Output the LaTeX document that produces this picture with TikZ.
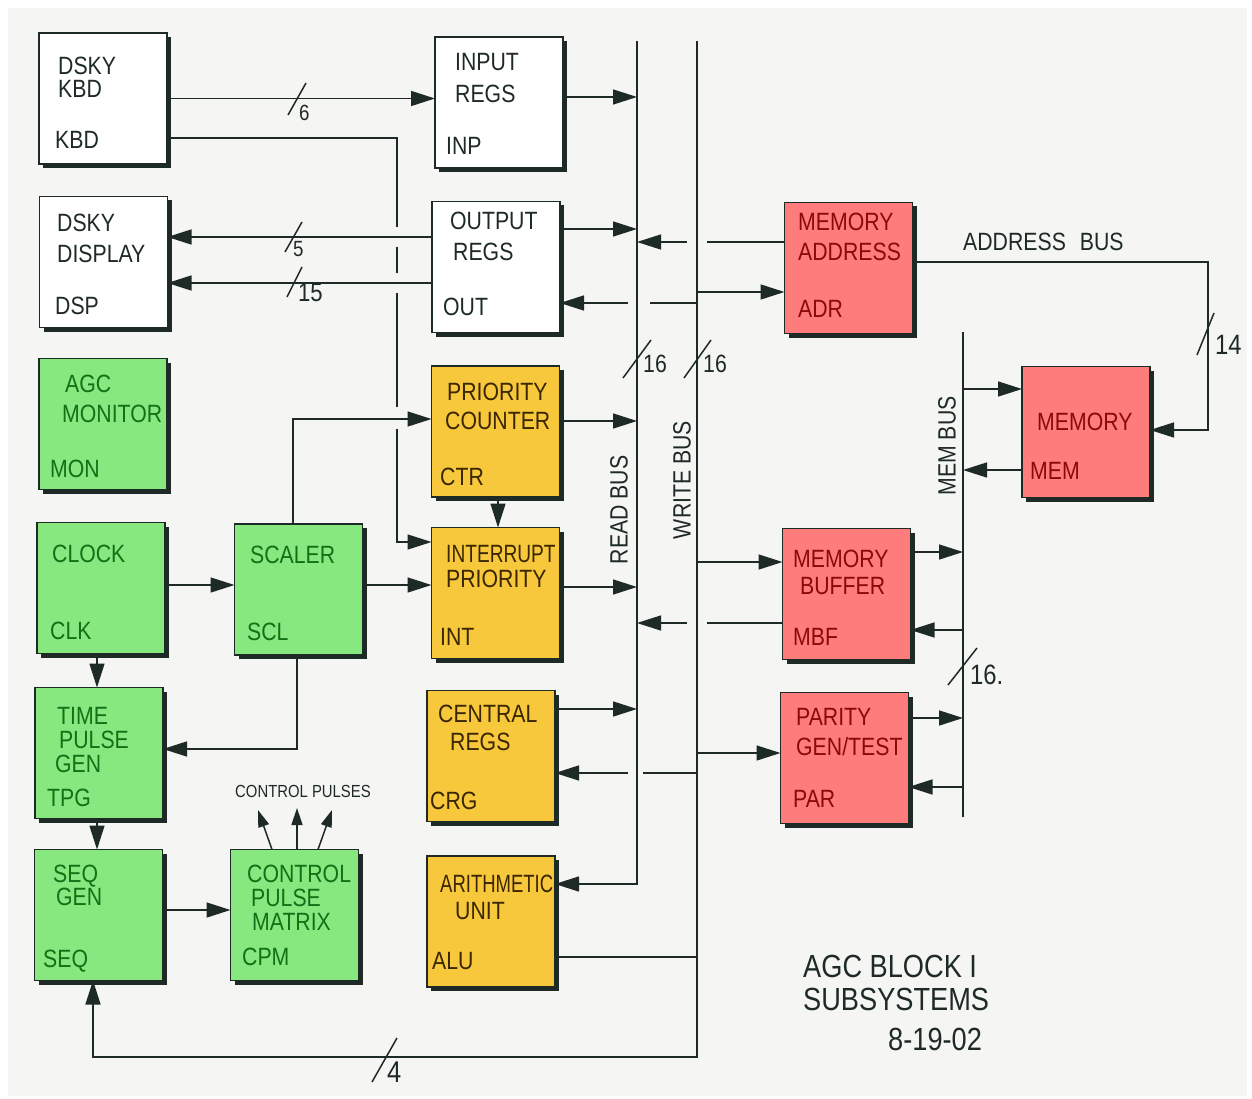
\documentclass[tikz,border=0pt]{standalone}
\usepackage{fontspec}
\usepackage{graphicx}
\setmainfont{Liberation Sans}[FakeStretch=0.85]
\usetikzlibrary{arrows.meta,calc,shadows}
\definecolor{paper}{HTML}{F5F5F3}
\definecolor{gfill}{HTML}{86E87E}
\definecolor{gtext}{HTML}{137016}
\definecolor{yfill}{HTML}{F7C83C}
\definecolor{ytext}{HTML}{3A2600}
\definecolor{rfill}{HTML}{FF7C7C}
\definecolor{rtext}{HTML}{8A0A0A}
\definecolor{ink}{HTML}{1E2A26}
\tikzset{
  box/.style={draw=ink, line width=1.6pt, minimum width=128pt, minimum height=131pt,
    inner sep=0pt, outer sep=0pt,
    general shadow={fill=ink, shadow xshift=4pt, shadow yshift=-4pt}},
  wbox/.style={box, fill=white},
  gbox/.style={box, fill=gfill},
  ybox/.style={box, fill=yfill},
  rbox/.style={box, fill=rfill},
  ln/.style={draw=ink, line width=1.5pt},
  arr/.style={ln, -{Triangle[length=24pt,width=15pt]}},
  sarr/.style={ln, -{Triangle[length=17pt,width=11pt]}},
  tick/.style={draw=ink, line width=1.5pt},
  txt/.style={anchor=north west, inner sep=0pt, align=left, font=\fontsize{25}{30}\selectfont},
  kt/.style={txt, text=ink},
  gt/.style={txt, text=gtext},
  yt/.style={txt, text=ytext},
  rt/.style={txt, text=rtext},
  numt/.style={anchor=north west, inner sep=0pt, text=ink, font=\fontsize{22}{24}\selectfont},
  bust/.style={inner sep=0pt, text=ink, rotate=90, font=\fontsize{25}{30}\selectfont},
}
\begin{document}
\begin{tikzpicture}[x=1pt,y=-1pt]
\useasboundingbox (0,0) rectangle (1252,1099);
\fill[white] (0,0) rectangle (1252,1099);
\fill[paper] (8,8) rectangle (1247,1096);

% ---------- boxes ----------
\node[wbox] (kbd) at (103,98.5) {};
\node[wbox] (dsp) at (103.5,262) {};
\node[wbox] (inp) at (499,102.5) {};
\node[wbox] (out) at (496,267) {};
\node[gbox] (mon) at (103,424) {};
\node[gbox] (clk) at (101,588) {};
\node[gbox] (scl) at (298.5,589.5) {};
\node[gbox] (tpg) at (99,753) {};
\node[gbox] (seq) at (98.5,915) {};
\node[gbox] (cpm) at (294.5,915) {};
\node[ybox] (ctr) at (495.5,431.5) {};
\node[ybox] (int) at (495.5,593) {};
\node[ybox] (crg) at (491,756) {};
\node[ybox] (alu) at (491,921.5) {};
\node[rbox] (adr) at (848.5,268) {};
\node[rbox] (mem) at (1086,432) {};
\node[rbox] (mbf) at (846.5,594) {};
\node[rbox] (par) at (844.5,758) {};

% ---------- box texts ----------
\node[kt, font=\fontsize{25}{23}\selectfont] (kbd-t) at (58,57) {DSKY\\KBD};
\node[kt] (kbd-a) at (55,131) {KBD};
\node[kt, font=\fontsize{25}{31}\selectfont] (dsp-t) at (57,214) {DSKY\\DISPLAY};
\node[kt] (dsp-a) at (55,297) {DSP};
\node[kt, font=\fontsize{25}{32}\selectfont] (inp-t) at (455,53) {INPUT\\REGS};
\node[kt] (inp-a) at (446,137) {INP};
\node[kt, font=\fontsize{25}{31}\selectfont] (out-t) at (450,212) {OUTPUT\\\hspace*{3pt}REGS};
\node[kt] (out-a) at (443,298) {OUT};

\node[gt, font=\fontsize{25}{30}\selectfont] (mon-t) at (62,375) {\hspace*{3pt}AGC\\MONITOR};
\node[gt] (mon-a) at (50,460) {MON};
\node[gt] (clk-t) at (52,545) {CLOCK};
\node[gt] (clk-a) at (50,622) {CLK};
\node[gt] (scl-t) at (250,546) {SCALER};
\node[gt] (scl-a) at (247,623) {SCL};
\node[gt, font=\fontsize{25}{24}\selectfont] (tpg-t) at (55,707) {\hspace*{2pt}TIME\\\hspace*{4pt}PULSE\\GEN};
\node[gt] (tpg-a) at (47,789) {TPG};
\node[gt, font=\fontsize{25}{23}\selectfont] (seq-t) at (53,865) {SEQ\\\hspace*{3pt}GEN};
\node[gt] (seq-a) at (43,950) {SEQ};
\node[gt, font=\fontsize{25}{24}\selectfont] (cpm-t) at (247,865) {CONTROL\\\hspace*{4pt}PULSE\\\hspace*{5pt}MATRIX};
\node[gt] (cpm-a) at (242,948) {CPM};

\node[yt, font=\fontsize{25}{29}\selectfont] (ctr-t) at (445,383) {\hspace*{2pt}PRIORITY\\COUNTER};
\node[yt] (ctr-a) at (440,468) {CTR};
\node[yt, font=\fontsize{25}{25}\selectfont] (int-t) at (446,545) {\scalebox{0.9}[1]{INTERRUPT}\\PRIORITY};
\node[yt] (int-a) at (440,628) {INT};
\node[yt, font=\fontsize{25}{28}\selectfont] (crg-t) at (438,705) {CENTRAL\\\hspace*{12pt}REGS};
\node[yt] (crg-a) at (430,792) {CRG};
\node[yt, font=\fontsize{25}{27}\selectfont] (alu-t) at (440,875) {\scalebox{0.87}[1]{ARITHMETIC}\\\hspace*{15pt}UNIT};
\node[yt] (alu-a) at (432,952) {ALU};

\node[rt, font=\fontsize{25}{30}\selectfont] (adr-t) at (798,213) {MEMORY\\ADDRESS};
\node[rt] (adr-a) at (798,300) {ADR};
\node[rt] (mem-t) at (1037,413) {MEMORY};
\node[rt] (mem-a) at (1030,462) {MEM};
\node[rt, font=\fontsize{25}{27}\selectfont] (mbf-t) at (793,550) {MEMORY\\\hspace*{7pt}BUFFER};
\node[rt] (mbf-a) at (793,628) {MBF};
\node[rt, font=\fontsize{25}{30}\selectfont] (par-t) at (796,708) {PARITY\\GEN/TEST};
\node[rt] (par-a) at (793,790) {PAR};

% ---------- bus coordinates ----------
\coordinate (rbtop) at (637,41);
\coordinate (rbbot) at (637,884);
\coordinate (wbtop) at (697,41);
\coordinate (wbbot) at (697,1057);
\coordinate (mbtop) at (963,332);
\coordinate (mbbot) at (963,817);
\coordinate (kv) at (397,138);
\coordinate (abx) at (1208,262);
\coordinate (lpx) at (93,1057);
\coordinate (c97) at (97,0);

% ---------- buses ----------
\draw[arr] (rbtop) -- (rbbot) -- ($(alu.east)+(0,-37.5)$);
\draw[arr] (wbtop) -- (wbbot) -- (lpx) -- (lpx |- seq.south);
\draw[ln] (mbtop) -- (mbbot);

\node[bust] (rbl) at (619,510) {READ BUS};
\node[bust] (wbl) at (682,480) {WRITE BUS};
\node[bust] (mbl) at (947,446) {MEM BUS};

% ---------- keyboard / display ----------
\draw[arr] (kbd.east) -- (kbd.east -| inp.west);
\coordinate (kbdout) at ($(kbd.east)+(0,39.5)$);
\coordinate (dspa) at ($(dsp.east)+(0,-25)$);
\coordinate (dspb) at ($(dsp.east)+(0,21)$);
\coordinate (ctrin) at ($(ctr.west)+(0,-12.5)$);
\coordinate (intin) at ($(int.west)+(0,-51)$);
\draw[arr] (dspa -| out.west) -- (dspa);
\draw[arr] (dspb -| out.west) -- (dspb);
\draw[ln] (kbdout) -| ($(kv |- dspa)+(0,-10)$);
\draw[ln] ($(kv |- dspa)+(0,10)$) -- ($(kv |- dspb)+(0,-10)$);
\draw[ln] ($(kv |- dspb)+(0,10)$) -- ($(kv |- ctrin)+(0,-12)$);
\draw[arr] ($(kv |- ctrin)+(0,10)$) |- (intin);

% ---------- I/O regs to buses ----------
\coordinate (inpa) at ($(inp.east)+(0,-5.5)$);
\draw[arr] (inpa) -- (inpa -| rbtop);
\coordinate (outa) at ($(out.east)+(0,-38)$);
\draw[arr] (outa) -- (outa -| rbtop);
\coordinate (owb) at ($(out.east)+(0,36)$);
\draw[ln] (owb -| wbtop) -- ($(owb -| rbtop)+(13,0)$);
\draw[arr] ($(owb -| rbtop)+(-9,0)$) -- (owb);

% ---------- memory address ----------
\coordinate (adra) at ($(adr.west)+(0,-26)$);
\draw[ln] (adra) -- ($(adra -| wbtop)+(10,0)$);
\draw[arr] ($(adra -| wbtop)+(-10,0)$) -- (adra -| rbtop);
\coordinate (adrb) at ($(adr.west)+(0,24)$);
\draw[arr] (adrb -| wbtop) -- (adrb);
\coordinate (adrc) at ($(adr.east)+(0,-6)$);
\coordinate (memc) at ($(mem.east)+(0,-2)$);
\draw[arr] (adrc) -| (abx |- memc) -- (memc);
\node[kt, font=\fontsize{25}{30}\selectfont] (abl) at (963,233) {ADDRESS\hspace{14pt}BUS};

% ---------- memory ----------
\coordinate (mema) at ($(mem.west)+(0,-43)$);
\draw[arr] (mema -| mbtop) -- (mema);
\coordinate (memb) at ($(mem.west)+(0,38)$);
\draw[arr] (memb) -- (memb -| mbtop);

% ---------- memory buffer ----------
\coordinate (mbfa) at ($(mbf.west)+(0,-32)$);
\draw[arr] (mbfa -| wbtop) -- (mbfa);
\coordinate (mbfb) at ($(mbf.west)+(0,29)$);
\draw[ln] (mbfb) -- ($(mbfb -| wbtop)+(10,0)$);
\draw[arr] ($(mbfb -| wbtop)+(-10,0)$) -- (mbfb -| rbtop);
\coordinate (mbfc) at ($(mbf.east)+(0,-42)$);
\draw[arr] (mbfc) -- (mbfc -| mbtop);
\coordinate (mbfd) at ($(mbf.east)+(0,36)$);
\draw[arr] (mbfd -| mbtop) -- (mbfd);

% ---------- parity ----------
\coordinate (para) at ($(par.west)+(0,-5)$);
\draw[arr] (para -| wbtop) -- (para);
\coordinate (parb) at ($(par.east)+(0,-40)$);
\draw[arr] (parb) -- (parb -| mbtop);
\coordinate (parc) at ($(par.east)+(0,29)$);
\draw[arr] (parc -| mbtop) -- (parc);

% ---------- central regs / alu ----------
\coordinate (crga) at ($(crg.east)+(0,-47)$);
\draw[arr] (crga) -- (crga -| rbtop);
\coordinate (crgb) at ($(crg.east)+(0,17)$);
\draw[ln] (crgb -| wbtop) -- ($(crgb -| rbtop)+(6,0)$);
\draw[arr] ($(crgb -| rbtop)+(-9,0)$) -- (crgb);
\coordinate (alua) at ($(alu.east)+(0,35.5)$);
\draw[ln] (alua) -- (alua -| wbtop);

% ---------- counters / interrupts ----------
\coordinate (ctra) at ($(ctr.east)+(0,-10.5)$);
\draw[arr] (ctra) -- (ctra -| rbtop);
\coordinate (inta) at ($(int.east)+(0,-6)$);
\draw[arr] (inta) -- (inta -| rbtop);
\draw[arr] ($(ctr.south)+(2.5,0)$) -- ($(int.north)+(2.5,0)$);

% ---------- timing ----------
\draw[arr] ($(scl.north)+(-5.5,0)$) |- (ctrin);
\coordinate (scla) at ($(scl.east)+(0,-4.5)$);
\draw[arr] (scla) -- (scla -| int.west);
\coordinate (clka) at ($(clk.east)+(0,-3)$);
\draw[arr] (clka) -- (clka -| scl.west);
\draw[arr] ($(scl.south)+(-1.5,0)$) |- ($(tpg.east)+(0,-4)$);
\draw[arr] (c97 |- clk.south) -- (c97 |- tpg.north);
\draw[arr] (c97 |- tpg.south) -- (c97 |- seq.north);
\coordinate (seqa) at ($(seq.east)+(0,-5)$);
\draw[arr] (seqa) -- (seqa -| cpm.west);

% ---------- control pulses ----------
\coordinate (cp1) at (258,810);
\coordinate (cp2) at (297,808);
\coordinate (cp3) at (332,810);
\draw[sarr] ($(cpm.north)+(-22.5,0)$) -- (cp1);
\draw[sarr] ($(cpm.north)+(2.5,0)$) -- (cp2);
\draw[sarr] ($(cpm.north)+(23.5,0)$) -- (cp3);
\node[anchor=north west, inner sep=0pt, text=ink, font=\fontsize{17.5}{18}\selectfont] (cpl) at (235,785) {CONTROL PULSES};

% ---------- bit-width marks ----------
\draw[tick] (288,115) -- (306,83);
\node[numt] (n6) at (299,105) {6};
\draw[tick] (285,252) -- (302,222);
\node[numt] (n5) at (293,241) {5};
\draw[tick] (287,297) -- (302,267);
\node[numt, font=\fontsize{26}{28}\selectfont] (n15) at (298,283) {15};
\draw[tick] (623,378) -- (651,340);
\node[numt, font=\fontsize{25}{28}\selectfont] (n16a) at (643,355) {16};
\draw[tick] (684,378) -- (711,340);
\node[numt, font=\fontsize{25}{28}\selectfont] (n16b) at (703,355) {16};
\draw[tick] (1197,355) -- (1214,313);
\node[numt, font=\fontsize{28}{30}\selectfont] (n14) at (1215,335) {14};
\draw[tick] (948,685) -- (977,648);
\node[numt, font=\fontsize{28}{30}\selectfont] (n16c) at (970,665) {16.};
\draw[tick] (372,1082) -- (397,1038);
\node[numt, font=\fontsize{30}{32}\selectfont] (n4) at (387,1062) {4};

% ---------- title ----------
\node[kt, font=\fontsize{32}{33}\selectfont] (title) at (803,955) {AGC BLOCK I\\SUBSYSTEMS};
\node[kt, font=\fontsize{32}{33}\selectfont] (date) at (888,1028) {8-19-02};
\end{tikzpicture}
\end{document}
